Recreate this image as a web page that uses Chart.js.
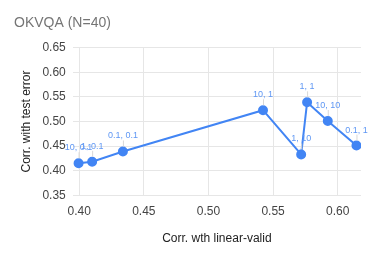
<!DOCTYPE html>
<html>
<head>
<meta charset="utf-8">
<script src="https://cdn.jsdelivr.net/npm/chart.js@4"></script>
<style>
  html, body { margin: 0; padding: 0; background: #fff; }
  #wrap { width: 374px; height: 266px; position: relative; }
</style>
</head>
<body>
<div id="wrap"><canvas id="chart"></canvas></div>
<script>
// values
const pointLabels = ['10, 0.1', '1, 0.1', '0.1, 0.1', '10, 1', '1, 10', '1, 1', '10, 10', '0.1, 1'];
const linearValid = [0.3995, 0.410, 0.4338, 0.5422, 0.5717, 0.5763, 0.5923, 0.6145];
const testError = [0.415, 0.418, 0.439, 0.523, 0.433, 0.539, 0.501, 0.451];
const xTicks = [0.40, 0.45, 0.50, 0.55, 0.60];
const yTicks = [0.35, 0.40, 0.45, 0.50, 0.55, 0.60, 0.65];

const FONT = 'Arial, "Liberation Sans", sans-serif';

// little annotation labels above each point, with a short stem
const annotate = {
    id: 'annotate',
    afterDatasetsDraw(chart) {
        const ctx = chart.ctx;
        const meta = chart.getDatasetMeta(0);
        ctx.save();
        ctx.font = '9px ' + FONT;
        ctx.textAlign = 'center';
        ctx.textBaseline = 'alphabetic';
        meta.data.forEach((pt, i) => {
            ctx.strokeStyle = '#d8d8d8';
            ctx.lineWidth = 1;
            ctx.beginPath();
            ctx.moveTo(pt.x + 0.5, pt.y - 5);
            ctx.lineTo(pt.x + 0.5, pt.y - 11);
            ctx.stroke();
            ctx.fillStyle = '#5f97f4';
            ctx.fillText(pointLabels[i], pt.x, pt.y - 13);
        });
        ctx.restore();
    }
};

new Chart(document.getElementById('chart').getContext('2d'), {
    type: 'scatter',
    data: {
        datasets: [{
            data: linearValid.map((x, i) => ({ x: x, y: testError[i] })),
            showLine: true,
            borderColor: '#4285f4',
            backgroundColor: '#4285f4',
            borderWidth: 2,
            pointRadius: 4,
            pointHoverRadius: 4
        }]
    },
    options: {
        responsive: true,
        maintainAspectRatio: false,
        animation: false,
        layout: { padding: { left: 14, right: 13, top: 4, bottom: 16 } },
        plugins: {
            legend: { display: false },
            tooltip: { enabled: false },
            title: {
                display: true,
                text: 'OKVQA (N=40)',
                align: 'start',
                color: '#757575',
                font: { family: FONT, size: 14, weight: 'normal' },
                padding: { top: 11, bottom: 16 }
            }
        },
        scales: {
            x: {
                type: 'linear',
                min: 0.395,
                max: 0.618,
                afterBuildTicks: axis => { axis.ticks = xTicks.map(v => ({ value: v })); },
                grid: { color: '#e6e6e6', drawTicks: false },
                border: { display: false },
                ticks: {
                    color: '#444',
                    font: { family: FONT, size: 12 },
                    padding: 9,
                    callback: v => v.toFixed(2)
                },
                title: {
                    display: true,
                    text: 'Corr. wth linear-valid',
                    color: '#222',
                    font: { family: FONT, size: 12 },
                    padding: { top: 4 }
                }
            },
            y: {
                min: 0.35,
                max: 0.65,
                afterBuildTicks: axis => { axis.ticks = yTicks.map(v => ({ value: v })); },
                grid: { color: '#e6e6e6', drawTicks: false },
                border: { display: false },
                ticks: {
                    color: '#444',
                    font: { family: FONT, size: 12 },
                    padding: 7,
                    callback: v => v.toFixed(2)
                },
                title: {
                    display: true,
                    text: 'Corr. with test error',
                    color: '#222',
                    font: { family: FONT, size: 12 },
                    padding: { top: 5, bottom: 2 }
                }
            }
        }
    },
    plugins: [annotate]
});
</script>
</body>
</html>
